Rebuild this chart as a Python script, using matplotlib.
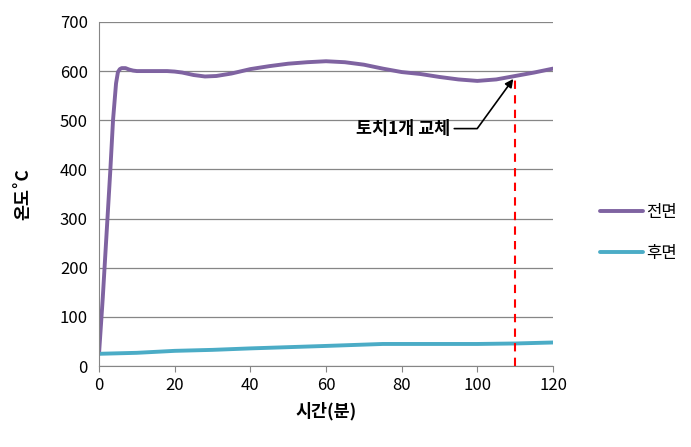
import matplotlib.pyplot as plt
import numpy as np

plt.rcParams['font.family'] = ['Noto Sans CJK KR', 'DejaVu Sans']

# 시간(분)
t_front = [0, 1, 2, 3, 3.7, 4.5, 5, 5.5, 6, 7, 8, 9, 10, 14, 18, 20, 22, 25, 28, 31, 35, 40,
           45, 50, 55, 60, 65, 70, 75, 80, 85, 90, 95, 100, 105, 110, 115, 120]
front = [25, 140, 270, 400, 500, 575, 598, 604, 606, 606, 603, 601, 600, 600, 600, 599, 597, 592, 589, 590, 595, 604,
         610, 615, 618, 620, 618, 613, 605, 598, 594, 588, 583, 580, 583, 590, 597, 605]

t_back = [0, 5, 10, 20, 30, 40, 60, 75, 80, 100, 110, 120]
back = [25, 26, 27, 31, 33, 36, 41, 45, 45, 45, 46, 48]

change_time = 110
change_temp = 590

fig = plt.figure(figsize=(6.91, 4.47), dpi=100)
ax = fig.add_axes([0.1433, 0.181, 0.657, 0.77])

ax.plot(t_front, front, color='#7F63A1', lw=2.8, label='전면', solid_capstyle='round', solid_joinstyle='round')
ax.plot(t_back, back, color='#4BACC6', lw=2.8, label='후면', solid_capstyle='round', solid_joinstyle='round')
ax.plot([change_time, change_time], [0, change_temp], color='#FF0000', lw=1.5, ls=(0, (4, 3)))

ax.annotate('토치1개 교체', xy=(change_time - 0.5, change_temp - 6), xytext=(92.8, 483),
            ha='right', va='center', fontsize=12.5, fontweight='bold',
            arrowprops=dict(arrowstyle='-|>', color='black', lw=1.2,
                            connectionstyle='angle,angleA=0,angleB=54,rad=0',
                            shrinkA=1, shrinkB=0, mutation_scale=12))

ax.set_xlim(0, 120)
ax.set_ylim(0, 700)
ax.set_xticks(np.arange(0, 121, 20))
ax.set_yticks(np.arange(0, 701, 100))
ax.grid(axis='y', color='#868686', lw=0.9)
ax.set_axisbelow(True)
for s in ['top', 'right']:
    ax.spines[s].set_visible(False)
for s in ['left', 'bottom']:
    ax.spines[s].set_color('#868686')
ax.tick_params(axis='both', labelsize=12, color='#868686', length=4)
ax.tick_params(axis='y', length=0, pad=8)

ax.set_xlabel('시간(분)', fontsize=12.5, fontweight='bold', labelpad=6)
ax.set_ylabel('온도˚C', fontsize=12.5, fontweight='bold', labelpad=20)

ax.legend(loc='center left', bbox_to_anchor=(1.07, 0.387), frameon=False,
          fontsize=12, handlelength=2.6, labelspacing=1.45, handletextpad=0.2)

fig.savefig('out.png', dpi=100)
